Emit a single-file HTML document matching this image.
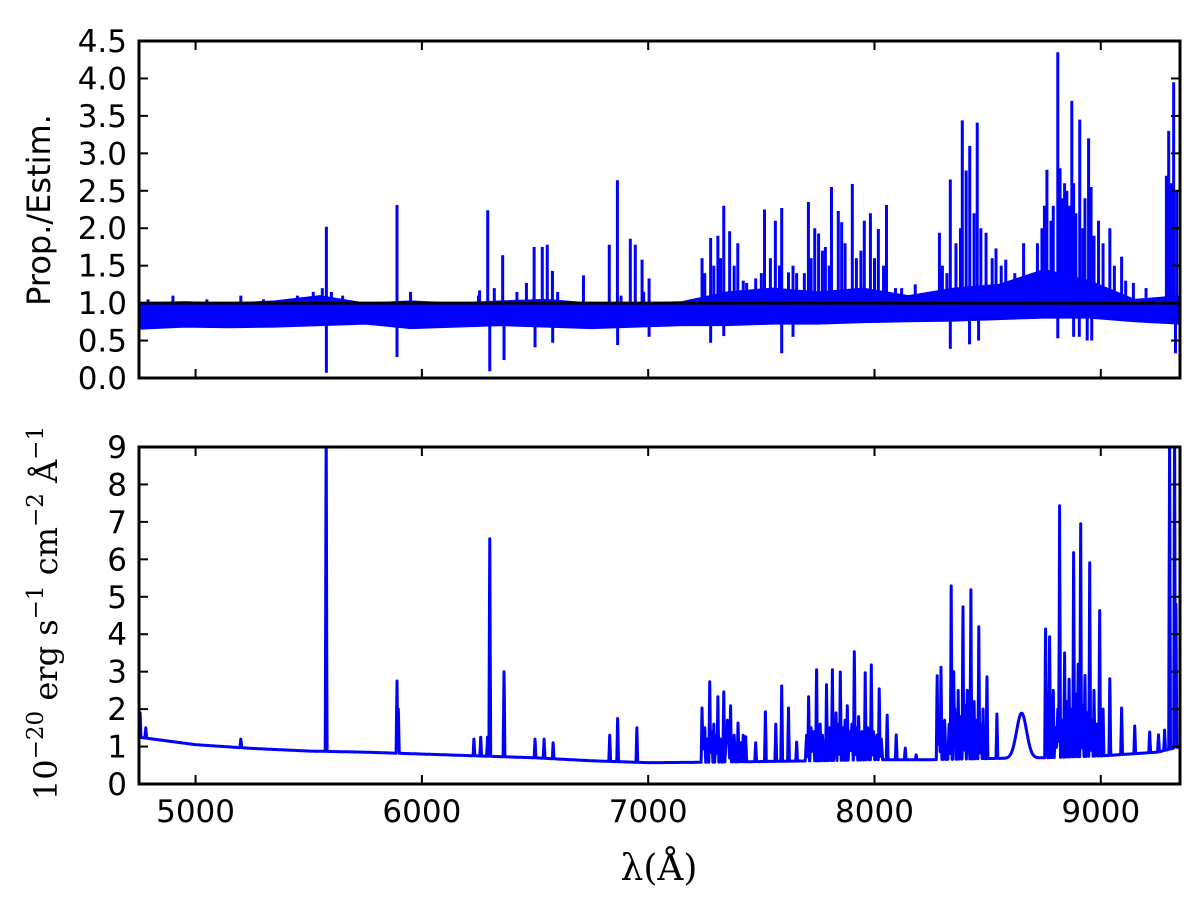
<!DOCTYPE html>
<html><head><meta charset="utf-8"><style>
html,body{margin:0;padding:0;background:#fff;}
svg{display:block;}
text{font-family:"DejaVu Sans","Liberation Sans",sans-serif;fill:#000;}
.serif{font-family:"DejaVu Serif","Liberation Serif",serif;}
</style></head><body>
<svg id="chart" width="1200" height="915" viewBox="0 0 1200 915" xmlns="http://www.w3.org/2000/svg">
<defs>
<clipPath id="clipTop"><rect x="139" y="41" width="1041" height="337"/></clipPath>
<clipPath id="clipBot"><rect x="139" y="447" width="1041" height="337"/></clipPath>
</defs>
<g id="topData" clip-path="url(#clipTop)"></g>
<g id="botData" clip-path="url(#clipBot)"></g>
<g id="axesG"></g>
<text x="0" y="0" font-size="32" text-anchor="middle" transform="translate(50,210) rotate(-90)">Prop./Estim.</text>
<text class="serif" x="0" y="0" font-size="32" text-anchor="middle" transform="translate(57,613) rotate(-90)">10<tspan font-size="23" dy="-14">−20</tspan><tspan dy="14"> erg s</tspan><tspan font-size="23" dy="-14">−1</tspan><tspan dy="14"> cm</tspan><tspan font-size="23" dy="-14">−2</tspan><tspan dy="14"> Å</tspan><tspan font-size="23" dy="-14">−1</tspan></text>
<text class="serif" x="659" y="880" font-size="36" text-anchor="middle">λ(Å)</text>
</svg>
<script>
// ---- data ----
const xTicks = [5000, 6000, 7000, 8000, 9000];
const topYTicks = [0, 0.5, 1, 1.5, 2, 2.5, 3, 3.5, 4, 4.5];
const botYTicks = [0, 1, 2, 3, 4, 5, 6, 7, 8, 9];
const bandWave = [4750,4950,5150,5350,5550,5750,5950,6150,6350,6550,6750,6950,7150,7350,7550,7750,7950,8150,8350,8550,8750,8950,9150,9350];
const bandLow  = [0.65,0.68,0.67,0.68,0.70,0.72,0.66,0.68,0.70,0.68,0.66,0.68,0.70,0.70,0.72,0.72,0.74,0.75,0.76,0.78,0.80,0.80,0.75,0.72];
const bandHigh = [1.00,1.02,1.00,1.03,1.10,1.00,1.03,1.00,1.03,1.05,1.00,1.00,1.02,1.15,1.20,1.15,1.20,1.10,1.20,1.25,1.45,1.30,1.05,1.10];
const topPeakWave = [5578,5890,6255,6291,6357,6462,6496,6532,6554,6577,6714,6828,6864,6921,6943,6973,7004,7238,7276,7308,7334,7360,7396,7435,7475,7514,7562,7590,7620,7656,7708,7736,7753,7783,7810,7840,7855,7902,7955,7982,8017,8053,8093,8180,8287,8335,8388,8405,8421,8454,8493,8537,8580,8659,8751,8762,8810,8840,8872,8907,8946,8957,8990,9040,9092,9144,9300,9322];
const topPeakVal  = [2.02,2.31,1.17,2.24,1.64,1.27,1.75,1.75,1.78,1.43,1.37,1.78,2.64,1.86,1.78,1.58,1.33,1.60,1.87,1.90,2.30,1.96,1.80,1.27,1.33,2.25,2.10,2.27,1.41,1.40,2.35,2.00,1.93,1.75,2.55,2.23,2.08,2.59,2.10,2.20,1.99,2.31,1.20,1.25,1.94,2.65,3.44,2.77,3.10,3.41,1.94,1.73,1.58,1.80,2.30,2.78,4.35,2.60,3.70,3.45,3.20,2.55,2.10,2.00,1.62,1.27,3.30,3.95];
const topFillWave = [4790,4900,5050,5200,5300,5450,5520,5560,5600,5650,5950,6250,6320,6420,6600,6880,6980,7250,7290,7320,7380,7420,7500,7540,7580,7640,7690,7720,7770,7800,7870,7920,7940,8000,8040,8120,8300,8320,8360,8380,8440,8470,8520,8560,8620,8700,8720,8740,8780,8790,8820,8830,8850,8860,8880,8890,8920,8930,8970,9010,9060,9110,9200,9290,9310,9335];
const topFillVal  = [1.05,1.1,1.05,1.1,1.05,1.1,1.15,1.2,1.15,1.1,1.15,1.1,1.2,1.15,1.15,1.1,1.15,1.4,1.5,1.6,1.5,1.3,1.4,1.6,1.5,1.5,1.4,1.6,1.7,1.5,1.8,1.6,1.7,1.6,1.5,1.2,1.5,1.4,1.8,2.0,2.2,2.0,1.6,1.5,1.4,1.4,1.8,2.0,2.1,2.3,2.8,2.4,2.5,2.3,2.6,2.2,2.0,2.4,1.9,1.8,1.5,1.3,1.2,2.7,2.6,2.5];
const topDipWave = [5578,5890,6300,6363,6500,6578,6865,7004,7276,7334,7590,7640,8335,8420,8460,8810,8880,8905,8940,8960,9330];
const topDipVal  = [0.07,0.28,0.09,0.24,0.41,0.47,0.44,0.55,0.47,0.56,0.33,0.55,0.39,0.45,0.50,0.53,0.55,0.55,0.50,0.50,0.33];
const contWave = [4750,5000,5250,5500,5750,6000,6250,6500,6750,7000,7250,7500,7750,8000,8250,8500,8750,9000,9250,9350];
const contVal  = [1.25,1.05,0.95,0.88,0.85,0.80,0.75,0.70,0.62,0.57,0.58,0.60,0.62,0.65,0.65,0.68,0.70,0.75,0.85,1.00];
const bumpCenter = [8650];
const bumpPeak = [1.2];
const bumpSigma = [22];
const lineWave = [4755,4780,5200,5577,5890,5896,6230,6260,6290,6300,6363,6500,6540,6580,6830,6865,6950,7238,7272,7308,7334,7364,7397,7431,7475,7518,7564,7590,7620,7656,7709,7744,7788,7814,7849,7880,7911,7959,7986,8021,8056,8096,8136,8184,8277,8294,8339,8391,8426,8461,8497,8541,8756,8774,8818,8880,8911,8951,8995,9040,9092,9150,9216,9255,9282,9304,9326,9332,7250,7290,7350,7420,7760,7830,7870,7930,8350,8370,8410,8440,8480,8790,8840,8860,8900,8930,8970,9010];
const linePeak = [1.9,1.5,1.2,9.5,2.75,2.0,1.2,1.25,1.25,6.55,3.0,1.2,1.2,1.1,1.3,1.75,1.5,2.03,2.73,2.33,2.46,2.09,1.63,1.26,1.1,1.93,1.6,2.62,2.03,1.12,2.33,3.05,2.65,3.05,2.99,2.09,3.53,2.97,3.18,2.54,1.84,1.31,0.96,0.78,2.89,3.12,5.29,4.73,5.19,4.2,2.86,1.87,4.14,3.93,7.43,6.18,6.95,5.91,4.63,2.81,2.03,1.55,1.39,1.31,1.44,9.5,9.5,4.8,1.5,1.6,1.7,1.3,1.6,1.9,1.7,1.8,3.0,2.5,2.5,2.2,2.0,2.5,3.5,2.8,3.2,2.9,2.5,2.0];
const fillWave = [7245,7260,7280,7300,7320,7345,7355,7380,7410,7700,7720,7730,7770,7800,7825,7840,7860,7890,7900,7920,7945,7970,7995,8010,8030,8285,8310,8330,8355,8380,8400,8415,8450,8470,8760,8800,8810,8830,8850,8870,8890,8920,8940,8960,8980];
const fillVal  = [1.3,1.2,1.4,1.3,1.2,1.4,1.2,1.3,1.1,1.3,1.5,1.4,1.3,1.5,1.4,1.6,1.5,1.4,1.6,1.5,1.4,1.5,1.4,1.3,1.2,1.9,1.7,1.6,2.0,1.8,2.1,1.9,1.7,1.6,1.8,1.5,2.0,1.7,2.2,2.0,2.4,2.1,1.9,1.7,1.6];

// ---- axes ----
const X0 = 139, X1 = 1180, W0 = 4750, W1 = 9350;
const TOP = {y0: 378, y1: 41, vmax: 4.5};
const BOT = {y0: 784, y1: 447, vmax: 9};
function xs(w){ return X0 + (w - W0) / (W1 - W0) * (X1 - X0); }
function ys(p, v){ return p.y0 - v / p.vmax * (p.y0 - p.y1); }
function interp(ws, vs, w){
  if (w <= ws[0]) return vs[0];
  for (let i = 1; i < ws.length; i++) if (w <= ws[i]) { const t = (w - ws[i-1]) / (ws[i] - ws[i-1]); return vs[i-1] + t * (vs[i] - vs[i-1]); }
  return vs[vs.length - 1];
}
const NS = 'http://www.w3.org/2000/svg';
function mk(tag, attrs, parent){ const e = document.createElementNS(NS, tag); for (const k in attrs) e.setAttribute(k, attrs[k]); parent.appendChild(e); return e; }

// top panel
const topG = document.getElementById('topData');
let pts = [];
for (let i = 0; i < bandWave.length; i++) pts.push(xs(bandWave[i]).toFixed(1) + ',' + ys(TOP, bandHigh[i]).toFixed(1));
for (let i = bandWave.length - 1; i >= 0; i--) pts.push(xs(bandWave[i]).toFixed(1) + ',' + ys(TOP, bandLow[i]).toFixed(1));
const band = mk('polygon', {points: pts.join(' '), fill: '#0000ff', stroke: '#0000ff', 'stroke-width': 1}, topG);


for (let i = 0; i < topFillWave.length; i++) {
  const x = xs(topFillWave[i]);
  const l = mk('line', {x1: x, x2: x, y1: ys(TOP, 0.9), y2: ys(TOP, topFillVal[i]), stroke: '#0000ff', 'stroke-width': 3}, topG);
  
  
}
for (let i = 0; i < topPeakWave.length; i++) {
  const x = xs(topPeakWave[i]);
  const l = mk('line', {x1: x, x2: x, y1: ys(TOP, 1.0), y2: ys(TOP, topPeakVal[i]), stroke: '#0000ff', 'stroke-width': 3}, topG);
  
  
}
for (let i = 0; i < topDipWave.length; i++) {
  const x = xs(topDipWave[i]);
  const l = mk('line', {x1: x, x2: x, y1: ys(TOP, 0.8), y2: ys(TOP, topDipVal[i]), stroke: '#0000ff', 'stroke-width': 3}, topG);
  
  
}
const ref = mk('line', {x1: X0, x2: X1, y1: ys(TOP, 1), y2: ys(TOP, 1), stroke: '#000', 'stroke-width': 3}, topG);



// bottom panel
const botG = document.getElementById('botData');
const vals = [];
for (let w = W0; w <= W1; w += 1) {
  let v = interp(contWave, contVal, w);
  for (let b = 0; b < bumpCenter.length; b++) v += bumpPeak[b] * Math.exp(-0.5 * Math.pow((w - bumpCenter[b]) / bumpSigma[b], 2));
  vals.push(v);
}
function addLines(ws, ps, hw){
  for (let i = 0; i < ws.length; i++) {
    const c = ws[i];
    for (let d = -hw; d <= hw; d++) {
      const idx = Math.round(c - W0) + d;
      if (idx < 0 || idx >= vals.length) continue;
      const base = vals[idx];
      const v = ps[i] - Math.abs(d) / hw * (ps[i] - base);
      vals[idx] = Math.max(base, v);
    }
  }
}
addLines(fillWave, fillVal, 6);
addLines(lineWave, linePeak, 4);
let bp = [];
for (let i = 0; i < vals.length; i++) bp.push(xs(W0 + i).toFixed(1) + ',' + ys(BOT, vals[i]).toFixed(1));
const fl = mk('polyline', {points: bp.join(' '), fill: 'none', stroke: '#0000ff', 'stroke-width': 3, 'stroke-linejoin': 'round'}, botG);



// axes frames, ticks, labels
const ax = document.getElementById('axesG');
[[TOP, topYTicks, 'top', x => x.toFixed(1), false], [BOT, botYTicks, 'bottom', x => String(x), true]].forEach(([P, yt, nm, fmt, xl]) => {
  const fr = mk('rect', {x: X0, y: P.y1, width: X1 - X0, height: P.y0 - P.y1, fill: 'none', stroke: '#000', 'stroke-width': 3}, ax);
  
  
  yt.forEach(v => {
    const y = ys(P, v);
    mk('line', {x1: X0, x2: X0 + 9, y1: y, y2: y, stroke: '#000', 'stroke-width': 2}, ax);
    mk('line', {x1: X1, x2: X1 - 9, y1: y, y2: y, stroke: '#000', 'stroke-width': 2}, ax);
    const t = mk('text', {x: 127, y: y + 11, 'font-size': 31, 'text-anchor': 'end'}, ax);
    t.textContent = fmt(v);
    
    
  });
  xTicks.forEach(w => {
    const x = xs(w);
    mk('line', {x1: x, x2: x, y1: P.y0, y2: P.y0 - 9, stroke: '#000', 'stroke-width': 2}, ax);
    mk('line', {x1: x, x2: x, y1: P.y1, y2: P.y1 + 9, stroke: '#000', 'stroke-width': 2}, ax);
    if (xl) {
      const t = mk('text', {x: x, y: 822, 'font-size': 31, 'text-anchor': 'middle'}, ax);
      t.textContent = String(w);
      
      
    }
  });
});
</script>
</body></html>
